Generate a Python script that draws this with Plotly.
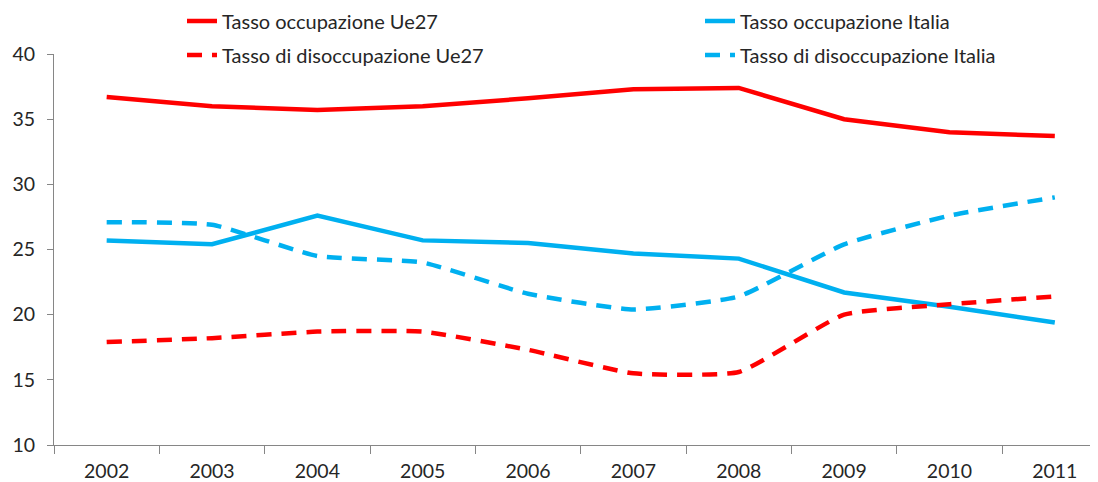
import plotly.graph_objects as go

years = ["2002", "2003", "2004", "2005", "2006", "2007", "2008", "2009", "2010", "2011"]
occ_ue27 = [36.7, 36.0, 35.7, 36.0, 36.6, 37.3, 37.4, 35.0, 34.0, 33.7]
occ_ita = [25.7, 25.4, 27.6, 25.7, 25.5, 24.7, 24.3, 21.7, 20.6, 19.4]
dis_ue27 = [17.9, 18.2, 18.7, 18.7, 17.3, 15.5, 15.6, 20.0, 20.8, 21.4]
dis_ita = [27.1, 26.9, 24.5, 24.0, 21.6, 20.4, 21.4, 25.4, 27.6, 29.0]

RED = "#FF0000"
BLUE = "#00B0F0"
FONT = "Lato"
TXT = "#262626"
W, H = 1090, 474

fig = go.Figure()
fig.add_trace(go.Scatter(x=years, y=occ_ue27, mode="lines", name="Tasso occupazione Ue27",
                         line=dict(color=RED, width=4.5), legend="legend"))
fig.add_trace(go.Scatter(x=years, y=occ_ita, mode="lines", name="Tasso occupazione Italia",
                         line=dict(color=BLUE, width=4.5), legend="legend2"))
fig.add_trace(go.Scatter(x=years, y=dis_ue27, mode="lines", name="Tasso di disoccupazione Ue27",
                         line=dict(color=RED, width=4.5, dash="15px,10px", shape="spline", smoothing=0.45),
                         legend="legend3"))
fig.add_trace(go.Scatter(x=years, y=dis_ita, mode="lines", name="Tasso di disoccupazione Italia",
                         line=dict(color=BLUE, width=4.5, dash="15px,10px", shape="spline", smoothing=0.45),
                         legend="legend4"))


def leg(px, py):
    return dict(orientation="h", font=dict(family=FONT, size=20, color=TXT),
                bgcolor="rgba(0,0,0,0)", xanchor="left", yanchor="middle",
                xref="container", yref="container", x=px / W, y=1 - py / H,
                itemclick=False, itemdoubleclick=False)


fig.update_layout(
    width=W, height=H,
    margin=dict(l=46, r=0, t=46, b=37, autoexpand=False),
    paper_bgcolor="white", plot_bgcolor="white",
    font=dict(family=FONT, size=19.5, color=TXT),
    showlegend=True,
    legend=leg(174, 13),
    legend2=leg(692, 13),
    legend3=leg(174, 47),
    legend4=leg(692, 47),
    xaxis=dict(type="category", range=[-0.5, 9.41], showgrid=False, zeroline=False,
               showline=True, linecolor="#868686", linewidth=1,
               ticks="outside", tickson="boundaries", ticklen=8, tickcolor="#868686",
               ticklabelstandoff=9,
               tickfont=dict(family=FONT, size=19.5, color=TXT)),
    yaxis=dict(range=[10, 40], dtick=5, showgrid=False, zeroline=False,
               showline=True, linecolor="#868686", linewidth=1,
               ticks="outside", ticklen=6, tickcolor="#868686",
               ticklabelstandoff=8,
               tickfont=dict(family=FONT, size=19.5, color=TXT)),
)

fig.write_html("out.html")
